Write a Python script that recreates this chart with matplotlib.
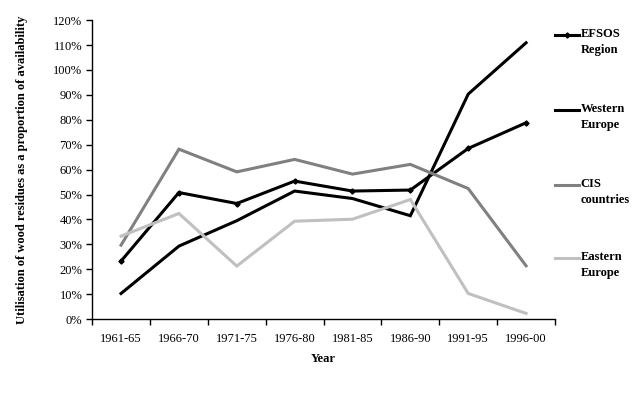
import matplotlib
matplotlib.use("Agg")
import matplotlib.pyplot as plt
from matplotlib.lines import Line2D
from matplotlib.ticker import FixedLocator, PercentFormatter

plt.rcParams["font.family"] = ["Liberation Serif", "DejaVu Serif"]

# ---------------------------------------------------------------------------
# Data (% of availability)
# ---------------------------------------------------------------------------
periods = ["1961-65", "1966-70", "1971-75", "1976-80",
           "1981-85", "1986-90", "1991-95", "1996-00"]

efsos = [23.3, 50.8, 46.4, 55.4, 51.4, 51.8, 68.5, 78.8]
western = [10.3, 29.3, 39.5, 51.4, 48.4, 41.5, 90.3, 110.9]
cis = [29.7, 68.2, 59.1, 64.1, 58.2, 62.1, 52.4, 21.4]
eastern = [33.3, 42.4, 21.3, 39.3, 40.1, 48.0, 10.3, 2.3]

series_names = ["EFSOS\nRegion", "Western\nEurope", "CIS\ncountries", "Eastern\nEurope"]
series_vals = [efsos, western, cis, eastern]
series_cols = ["#000000", "#000000", "#808080", "#c0c0c0"]
series_mark = ["D", None, None, None]

# ---------------------------------------------------------------------------
# Plot
# ---------------------------------------------------------------------------
fig = plt.figure(figsize=(6.42, 3.94), dpi=100)
ax = fig.add_axes([0.1435, 0.19, 0.721, 0.759])

x = list(range(len(periods)))
for vals, col, mk in zip(series_vals, series_cols, series_mark):
    ax.plot(x, vals, color=col, lw=2.2, marker=mk, ms=2.6,
            solid_joinstyle="miter", zorder=3)

ax.set_xlim(-0.5, len(periods) - 0.5)
ax.set_ylim(0, 120)
ax.yaxis.set_major_locator(FixedLocator(range(0, 121, 10)))
ax.yaxis.set_major_formatter(PercentFormatter(decimals=0))

ax.set_xticks(x)
ax.set_xticklabels(periods)
ax.xaxis.set_minor_locator(FixedLocator([i - 0.5 for i in range(len(periods) + 1)]))
ax.tick_params(axis="x", which="major", length=0, pad=10, labelsize=9)
ax.tick_params(axis="x", which="minor", length=4, width=1, direction="out")
ax.tick_params(axis="y", length=4, width=1, direction="out", labelsize=9, pad=3)

for s in ["top", "right"]:
    ax.spines[s].set_visible(False)
for s in ["left", "bottom"]:
    ax.spines[s].set_linewidth(1)

ax.set_xlabel("Year", fontsize=9, fontweight="bold", labelpad=6)
fig.text(0.034, 0.57, "Utilisation of wood residues as a proportion of availability",
         rotation=90, ha="center", va="center", fontsize=9, fontweight="bold")

# legend drawn by hand so the key sits on the first text line
leg_y = [0.911, 0.721, 0.531, 0.345]
for name, col, mk, yy in zip(series_names, series_cols, series_mark, leg_y):
    fig.add_artist(Line2D([0.865, 0.902], [yy, yy], color=col, lw=2.2,
                          transform=fig.transFigure))
    if mk:
        fig.add_artist(Line2D([0.8835], [yy], color=col, marker=mk, ms=2.6,
                              transform=fig.transFigure))
    fig.text(0.904, yy + 0.017, name, ha="left", va="top", fontsize=9,
             fontweight="bold", linespacing=1.45)

fig.savefig("out.png", dpi=100)
